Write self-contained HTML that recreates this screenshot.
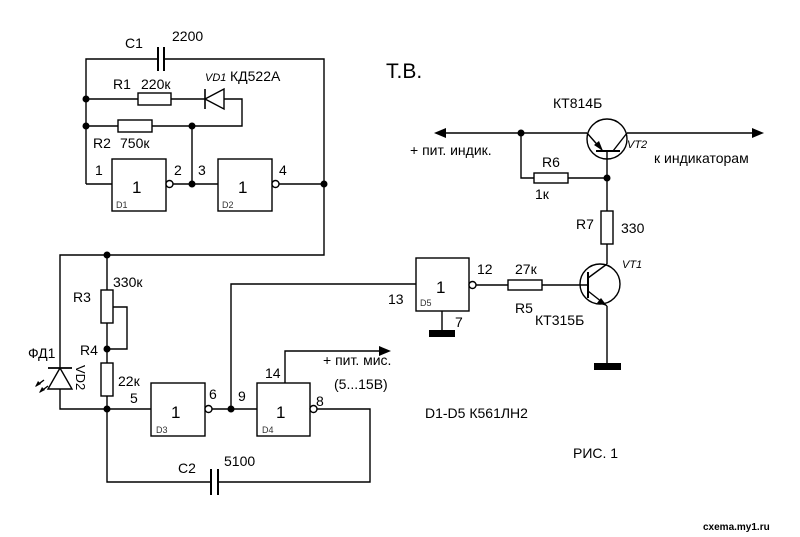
<!DOCTYPE html>
<html><head><meta charset="utf-8"><style>
body{margin:0;background:#fff}
svg{display:block}
text{font-family:"Liberation Sans","DejaVu Sans",sans-serif;font-size:14px;fill:#000}
.s{font-size:9px;fill:#333}
.i{font-style:italic;font-size:11px}
</style></head><body>
<svg width="800" height="537" viewBox="0 0 800 537" xmlns="http://www.w3.org/2000/svg">
<g stroke="#000" stroke-width="1.4" fill="none">
<!-- top oscillator -->
<path d="M86 184V59H158M164 59H324V255H60V409H107"/>
<path d="M158 47V71M164 47V71" stroke-width="2"/>
<path d="M86 99H138M171 99H205M224 99H242V126H152M118 126H86"/>
<rect x="138" y="93" width="33" height="12" fill="#fff"/>
<rect x="118" y="120" width="34" height="12" fill="#fff"/>
<path d="M205 89V109" stroke-width="1.6"/>
<path d="M224 89L205 99L224 109Z" fill="#fff"/>
<path d="M192 126V184M86 184H112M173 184H218M279 184H324"/>
<rect x="112" y="159" width="54" height="52" fill="#fff"/>
<circle cx="169.5" cy="184" r="3.5" fill="#fff"/>
<rect x="218" y="159" width="54" height="52" fill="#fff"/>
<circle cx="275.5" cy="184" r="3.5" fill="#fff"/>
<!-- R3 R4 -->
<path d="M107 255V290M107 323V363M107 396V482H211M218 482H370V409H317M113 307H127V349H107"/>
<rect x="101" y="290" width="12" height="33" fill="#fff"/>
<rect x="101" y="363" width="12" height="33" fill="#fff"/>
<path d="M211 469V495M218 469V495" stroke-width="2"/>
<path d="M48 368H72" stroke-width="1.8"/>
<path d="M60 368L48 389H72Z" fill="#fff"/>
<path d="M36 386L44 380M40 392L48 386"/>
<path d="M107 409H151M212 409H257M231 409V284H416"/>
<rect x="151" y="383" width="54" height="53" fill="#fff"/>
<circle cx="208.5" cy="409" r="3.5" fill="#fff"/>
<rect x="257" y="383" width="53" height="53" fill="#fff"/>
<circle cx="313.5" cy="409" r="3.5" fill="#fff"/>
<path d="M285 383V351H380"/>
<!-- D5 -->
<rect x="416" y="258" width="53" height="53" fill="#fff"/>
<circle cx="472.5" cy="285" r="3.5" fill="#fff"/>
<path d="M476 285H508M542 285H588M442 311V330"/>
<rect x="508" y="280" width="34" height="10" fill="#fff"/>
<!-- right power -->
<path d="M444 133H587M627 133H752"/>
<path d="M521 133V178H534M568 178H607V211M607 244V264M607 306V363"/>
<rect x="534" y="173" width="34" height="10" fill="#fff"/>
<rect x="601" y="211" width="12" height="33" fill="#fff"/>
<circle cx="607" cy="139" r="20"/>
<path d="M596 151H620" stroke-width="2"/>
<path d="M607 151V178M587 133L602 150M627 133L613 151"/>
<circle cx="600" cy="284" r="20"/>
<path d="M588 272V298" stroke-width="2"/>
<path d="M588 278L607 264M588 291L607 306"/>
</g>
<g fill="#000">
<path d="M434 133L446 128V138Z"/>
<path d="M764 133L752 128V138Z"/>
<path d="M391 351L379 346V356Z"/>
<path d="M603 151L594 145L599 141Z"/>
<path d="M607 306L597 303L601 298Z"/>
<path d="M35 387L38 381L41 384Z"/><path d="M39 393L42 387L45 390Z"/>
<circle cx="86" cy="99" r="3.5"/><circle cx="86" cy="126" r="3.5"/>
<circle cx="192" cy="126" r="3.5"/><circle cx="192" cy="184" r="3.5"/>
<circle cx="324" cy="184" r="3.5"/><circle cx="107" cy="255" r="3.5"/>
<circle cx="107" cy="349" r="3.5"/><circle cx="107" cy="409" r="3.5"/>
<circle cx="231" cy="409" r="3.5"/><circle cx="521" cy="133" r="3.5"/>
<circle cx="607" cy="178" r="3.5"/>
<rect x="429" y="330" width="26" height="7"/>
<rect x="594" y="363" width="27" height="7"/>
</g>
<text x="125" y="48">C1</text><text x="172" y="41">2200</text>
<text x="113" y="89">R1</text><text x="141" y="89">220к</text>
<text x="205" y="81" class="i">VD1</text><text x="230" y="81">КД522А</text>
<text x="93" y="148">R2</text><text x="120" y="148">750к</text>
<text x="95" y="175">1</text><text x="174" y="175">2</text><text x="198" y="175">3</text><text x="279" y="175">4</text>
<text x="132" y="193" style="font-size:17px">1</text><text x="238" y="193" style="font-size:17px">1</text>
<text x="116" y="208" class="s">D1</text><text x="222" y="208" class="s">D2</text>
<text x="113" y="287">330к</text><text x="73" y="302">R3</text><text x="80" y="355">R4</text>
<text x="28" y="358">ФД1</text>
<text x="0" y="0" transform="translate(76,365) rotate(90)" style="font-size:13px">VD2</text>
<text x="118" y="386">22к</text><text x="130" y="403">5</text>
<text x="171" y="418" style="font-size:17px">1</text><text x="276" y="418" style="font-size:17px">1</text>
<text x="156" y="433" class="s">D3</text><text x="262" y="433" class="s">D4</text>
<text x="209" y="399">6</text><text x="238" y="401">9</text><text x="265" y="378">14</text><text x="316" y="406">8</text>
<text x="323" y="365">+ пит. мис.</text><text x="334" y="389">(5...15В)</text>
<text x="178" y="473">C2</text><text x="224" y="466">5100</text>
<text x="386" y="78" style="font-size:21px">Т.В.</text>
<text x="553" y="108">КТ814Б</text><text x="627" y="148" class="i">VT2</text>
<text x="410" y="155">+ пит. индик.</text><text x="654" y="163">к индикаторам</text>
<text x="542" y="167">R6</text><text x="535" y="199">1к</text>
<text x="576" y="229">R7</text><text x="621" y="233">330</text>
<text x="622" y="268" class="i">VT1</text>
<text x="477" y="274">12</text><text x="515" y="274">27к</text>
<text x="515" y="313">R5</text><text x="535" y="325">КТ315Б</text>
<text x="388" y="304">13</text><text x="455" y="327">7</text>
<text x="436" y="293" style="font-size:17px">1</text><text x="420" y="306" class="s">D5</text>
<text x="425" y="418">D1-D5 К561ЛН2</text>
<text x="573" y="458">РИС. 1</text>
<text x="703" y="530" style="font-size:10px;font-weight:bold">cxema.my1.ru</text>
</svg>
</body></html>
